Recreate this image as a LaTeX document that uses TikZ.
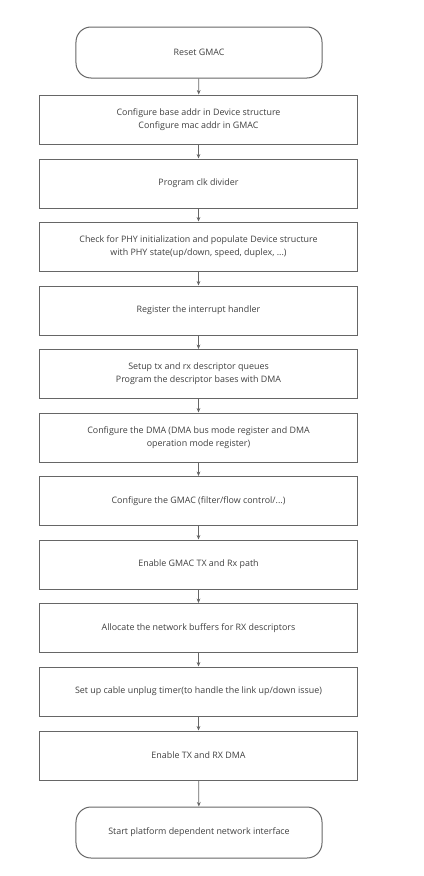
\documentclass[tikz,border=0pt]{standalone}
\usepackage{fontspec}
\setmainfont{Open Sans}
\usetikzlibrary{arrows.meta}
\definecolor{linec}{HTML}{666666}
\definecolor{textc}{HTML}{404040}
\tikzset{
  stepbox/.style={draw=linec, line width=1bp, minimum width=317bp, minimum height=49bp,
    inner sep=0pt, align=center, text=textc, font=\fontsize{8.9bp}{13.3bp}\selectfont},
  termbox/.style={stepbox, rounded corners=15bp, minimum width=246bp, minimum height=51bp},
  flow/.style={draw=linec, line width=0.8bp, -{Stealth[length=4.5bp,width=3.8bp]}}
}
\begin{document}
\begin{tikzpicture}[x=1bp,y=-1bp]
\useasboundingbox (0,0) rectangle (423,876);
\node[termbox] (t0) at (199,52.5) {Reset GMAC};
\node[stepbox] (b1) at (198.5,119.5) {Configure base addr in Device structure\\Configure mac addr in GMAC};
\node[stepbox] (b2) at (198.5,183.5) {Program clk divider};
\node[stepbox] (b3) at (198.5,246.5) {Check for PHY initialization and populate Device structure\\with PHY state(up/down, speed, duplex, ...)};
\node[stepbox] (b4) at (198.5,310.5) {Register the interrupt handler};
\node[stepbox] (b5) at (198.5,374) {Setup tx and rx descriptor queues\\Program the descriptor bases with DMA};
\node[stepbox] (b6) at (198.5,437.5) {Configure the DMA (DMA bus mode register and DMA\\operation mode register)};
\node[stepbox] (b7) at (198.5,501) {Configure the GMAC (filter/flow control/...)};
\node[stepbox] (b8) at (198.5,564.5) {Enable GMAC TX and Rx path};
\node[stepbox] (b9) at (198.5,628) {Allocate the network buffers for RX descriptors};
\node[stepbox] (b10) at (198.5,691.5) {Set up cable unplug timer(to handle the link up/down issue)};
\node[stepbox] (b11) at (198.5,755.5) {Enable TX and RX DMA};
\node[termbox] (t1) at (199,832.5) {Start platform dependent network interface};
\foreach \a/\b in {t0/b1,b1/b2,b2/b3,b3/b4,b4/b5,b5/b6,b6/b7,b7/b8,b8/b9,b9/b10,b10/b11,b11/t1}
  \draw[flow] (\a) -- (\b);
\end{tikzpicture}
\end{document}
